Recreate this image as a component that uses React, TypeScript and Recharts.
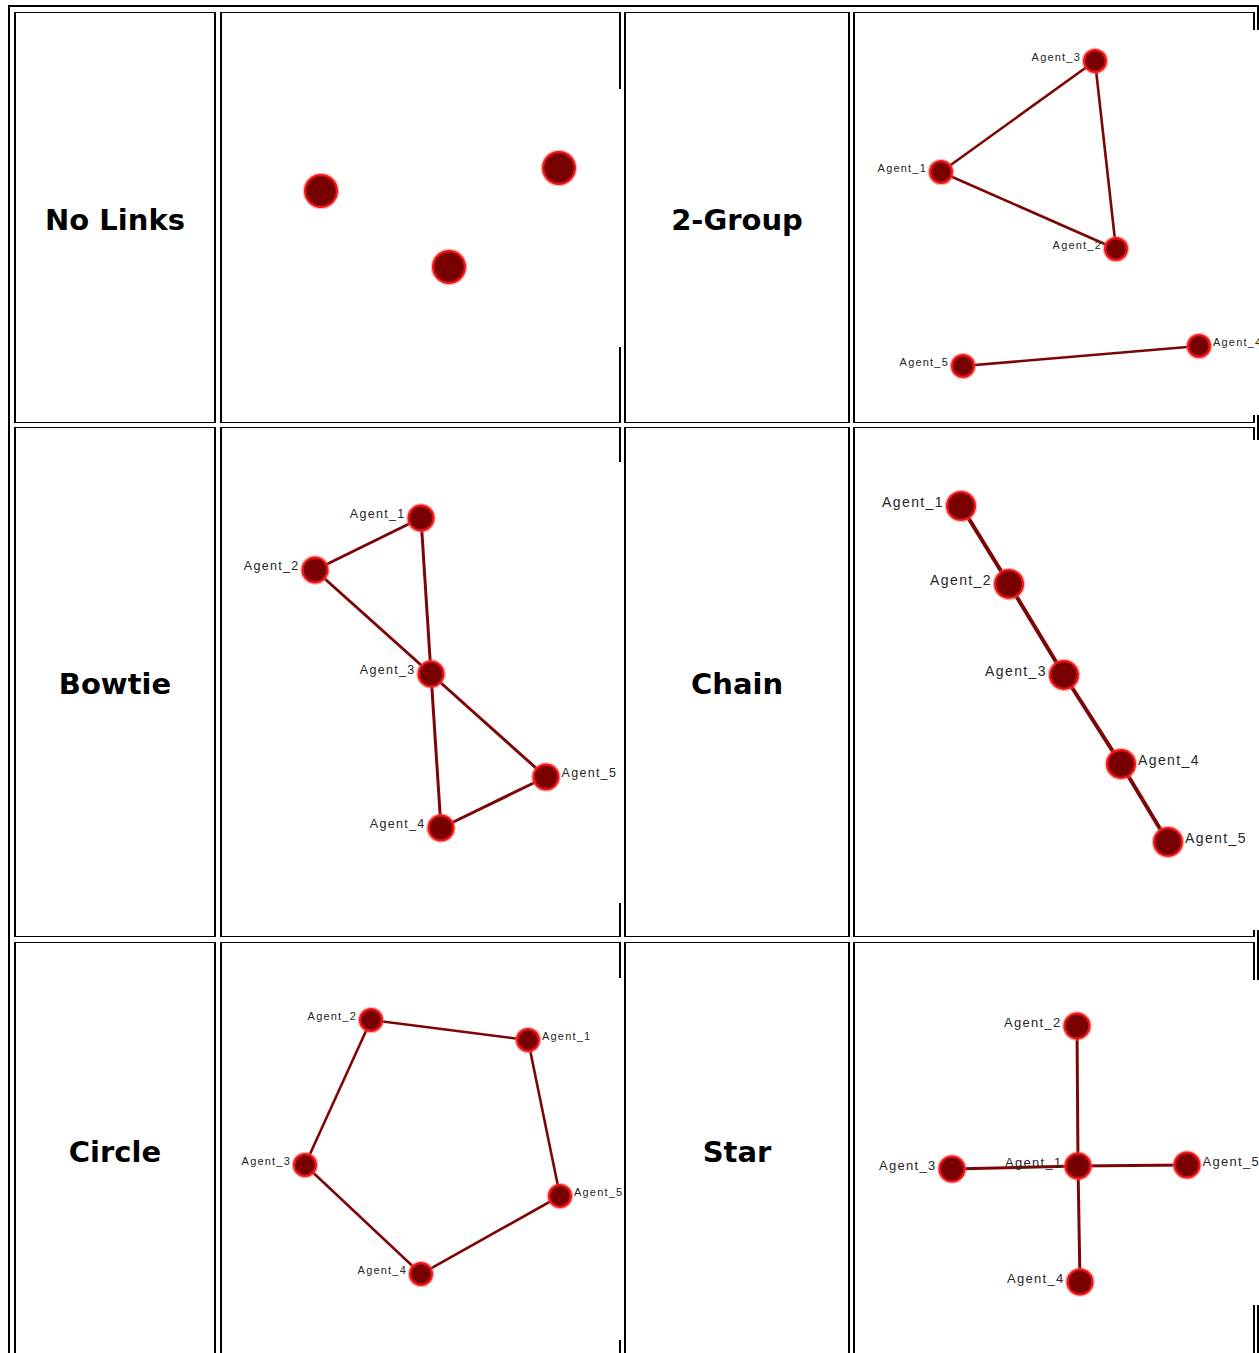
import { Scatter, ScatterChart, XAxis, YAxis } from 'recharts';

interface Agent {
  name: string;
  x: number;
  y: number;
  side?: 'left' | 'right';
}
type Edge = [string, string];

// layout coordinates of each network
const noLinksAgents: Agent[] = [
  { name: '', x: 99, y: 102 },
  { name: '', x: 227, y: 178 },
  { name: '', x: 337, y: 79 },
];
const noLinksEdges: Edge[] = [];

const twoGroupAgents: Agent[] = [
  { name: 'Agent_3', x: 239, y: 31 },
  { name: 'Agent_1', x: 85, y: 142 },
  { name: 'Agent_2', x: 260, y: 219 },
  { name: 'Agent_5', x: 107, y: 336 },
  { name: 'Agent_4', x: 343, y: 316, side: 'right' },
];
const twoGroupEdges: Edge[] = [
  ['Agent_1', 'Agent_3'],
  ['Agent_1', 'Agent_2'],
  ['Agent_3', 'Agent_2'],
  ['Agent_5', 'Agent_4'],
];

const bowtieAgents: Agent[] = [
  { name: 'Agent_1', x: 199, y: 56 },
  { name: 'Agent_2', x: 93, y: 108 },
  { name: 'Agent_3', x: 209, y: 212 },
  { name: 'Agent_5', x: 324, y: 315, side: 'right' },
  { name: 'Agent_4', x: 219, y: 366 },
];
const bowtieEdges: Edge[] = [
  ['Agent_1', 'Agent_2'],
  ['Agent_1', 'Agent_3'],
  ['Agent_2', 'Agent_3'],
  ['Agent_3', 'Agent_5'],
  ['Agent_3', 'Agent_4'],
  ['Agent_4', 'Agent_5'],
];

const chainAgents: Agent[] = [
  { name: 'Agent_1', x: 105, y: 66 },
  { name: 'Agent_2', x: 153, y: 144 },
  { name: 'Agent_3', x: 208, y: 235 },
  { name: 'Agent_4', x: 265, y: 324, side: 'right' },
  { name: 'Agent_5', x: 312, y: 402, side: 'right' },
];
const chainEdges: Edge[] = [
  ['Agent_1', 'Agent_2'],
  ['Agent_2', 'Agent_3'],
  ['Agent_3', 'Agent_4'],
  ['Agent_4', 'Agent_5'],
];

const circleAgents: Agent[] = [
  { name: 'Agent_2', x: 149, y: 42 },
  { name: 'Agent_1', x: 306, y: 62, side: 'right' },
  { name: 'Agent_5', x: 338, y: 218, side: 'right' },
  { name: 'Agent_4', x: 199, y: 296 },
  { name: 'Agent_3', x: 83, y: 187 },
];
const circleEdges: Edge[] = [
  ['Agent_2', 'Agent_1'],
  ['Agent_1', 'Agent_5'],
  ['Agent_5', 'Agent_4'],
  ['Agent_4', 'Agent_3'],
  ['Agent_3', 'Agent_2'],
];

const starAgents: Agent[] = [
  { name: 'Agent_2', x: 221, y: 46 },
  { name: 'Agent_3', x: 96, y: 189 },
  { name: 'Agent_5', x: 331, y: 185, side: 'right' },
  { name: 'Agent_4', x: 224, y: 302 },
  { name: 'Agent_1', x: 222, y: 186 },
];
const starEdges: Edge[] = [
  ['Agent_1', 'Agent_2'],
  ['Agent_1', 'Agent_3'],
  ['Agent_1', 'Agent_4'],
  ['Agent_1', 'Agent_5'],
];

const topologyNames = ['No Links', '2-Group', 'Bowtie', 'Chain', 'Circle', 'Star'];

const EDGE = '#7c0606';
const NODE = '#780000';
const RING = '#f01414';
const LABEL_FONT = '"Liberation Sans", Arial, sans-serif';

// table geometry
const colX: [number, number][] = [
  [14, 215],
  [220, 620],
  [624, 849],
  [853, 1254],
];
const rowY: [number, number][] = [
  [12, 422],
  [427, 936],
  [942, 1357],
];

interface PanelSpec {
  agents: Agent[];
  edges: Edge[];
  left: number;
  top: number;
  w: number;
  h: number;
  r: number;
  lw: number;
  fs: number;
  ls: number;
}

const panels: PanelSpec[] = [
  { agents: noLinksAgents, edges: noLinksEdges, left: 222, top: 89, w: 402, h: 258, r: 17, lw: 3, fs: 11, ls: 1 },
  { agents: twoGroupAgents, edges: twoGroupEdges, left: 856, top: 30, w: 410, h: 385, r: 12, lw: 2.6, fs: 11, ls: 1.2 },
  { agents: bowtieAgents, edges: bowtieEdges, left: 222, top: 462, w: 402, h: 441, r: 13.5, lw: 3, fs: 12.5, ls: 1.3 },
  { agents: chainAgents, edges: chainEdges, left: 856, top: 440, w: 410, h: 490, r: 15, lw: 4, fs: 14, ls: 1.4 },
  { agents: circleAgents, edges: circleEdges, left: 222, top: 978, w: 402, h: 362, r: 12, lw: 2.6, fs: 11, ls: 1.2 },
  { agents: starAgents, edges: starEdges, left: 856, top: 980, w: 410, h: 325, r: 13.5, lw: 3, fs: 13, ls: 1.3 },
];

function GraphPanel({ p }: { p: PanelSpec }) {
  const byName = new Map(p.agents.map((a) => [a.name, a]));
  const renderNode = (props: any) => {
    const { cx, cy, payload } = props;
    const r = p.r;
    const right = payload.side === 'right';
    return (
      <g>
        {payload.name && (
          <text
            x={right ? cx + r + 2 : cx - r - 2}
            y={cy - 4}
            textAnchor={right ? 'start' : 'end'}
            dominantBaseline="central"
            fontSize={p.fs}
            letterSpacing={p.ls}
            fill="#262626"
            fontFamily={LABEL_FONT}
          >
            {payload.name}
          </text>
        )}
        <circle cx={cx} cy={cy} r={r + 1.3} fill="#ff6060" opacity={0.45} />
        <circle cx={cx} cy={cy} r={r} fill={RING} />
        <circle cx={cx} cy={cy} r={r - 2.3} fill={NODE} />
      </g>
    );
  };
  return (
    <div style={{ position: 'absolute', left: p.left, top: p.top, width: p.w, height: p.h, background: '#fff' }}>
      <ScatterChart width={p.w} height={p.h} margin={{ top: 0, right: 0, bottom: 0, left: 0 }}>
        <XAxis type="number" dataKey="x" domain={[0, p.w]} hide />
        <YAxis type="number" dataKey="y" domain={[0, p.h]} reversed hide />
        {p.edges.map(([a, b]) => (
          <Scatter
            key={a + b}
            data={[byName.get(a), byName.get(b)]}
            line={{ stroke: EDGE, strokeWidth: p.lw }}
            shape={() => <g />}
            isAnimationActive={false}
          />
        ))}
        <Scatter data={p.agents} shape={renderNode} isAnimationActive={false} />
      </ScatterChart>
    </div>
  );
}

export default function App() {
  const cells = [];
  for (let r = 0; r < rowY.length; r++) {
    for (let c = 0; c < colX.length; c++) {
      const [x0, x1] = colX[c];
      const [y0, y1] = rowY[r];
      const isLabel = c % 2 === 0;
      cells.push(
        <div
          key={`${r}-${c}`}
          style={{
            position: 'absolute',
            left: x0,
            top: y0,
            width: x1 - x0 + 1,
            height: y1 - y0 + 1,
            boxSizing: 'border-box',
            borderStyle: 'solid',
            borderColor: '#000',
            borderWidth: '1px 2px 1px 2px',
            display: 'flex',
            alignItems: 'center',
            justifyContent: 'center',
            paddingTop: 4,
          }}
        >
          {isLabel && (
            <span style={{ fontFamily: '"DejaVu Sans", Verdana, sans-serif', fontWeight: 'bold', fontSize: 29, color: '#000' }}>
              {topologyNames[r * 2 + c / 2]}
            </span>
          )}
        </div>
      );
    }
  }
  return (
    <div style={{ position: 'fixed', left: 0, top: 0, width: 1259, height: 1353, overflow: 'hidden', background: '#fff' }}>
      <div
        style={{
          position: 'absolute',
          left: 8,
          top: 5,
          width: 1251,
          height: 1400,
          boxSizing: 'border-box',
          border: '2px solid #000',
        }}
      />
      {cells}
      {panels.map((p, i) => (
        <GraphPanel key={i} p={p} />
      ))}
    </div>
  );
}
